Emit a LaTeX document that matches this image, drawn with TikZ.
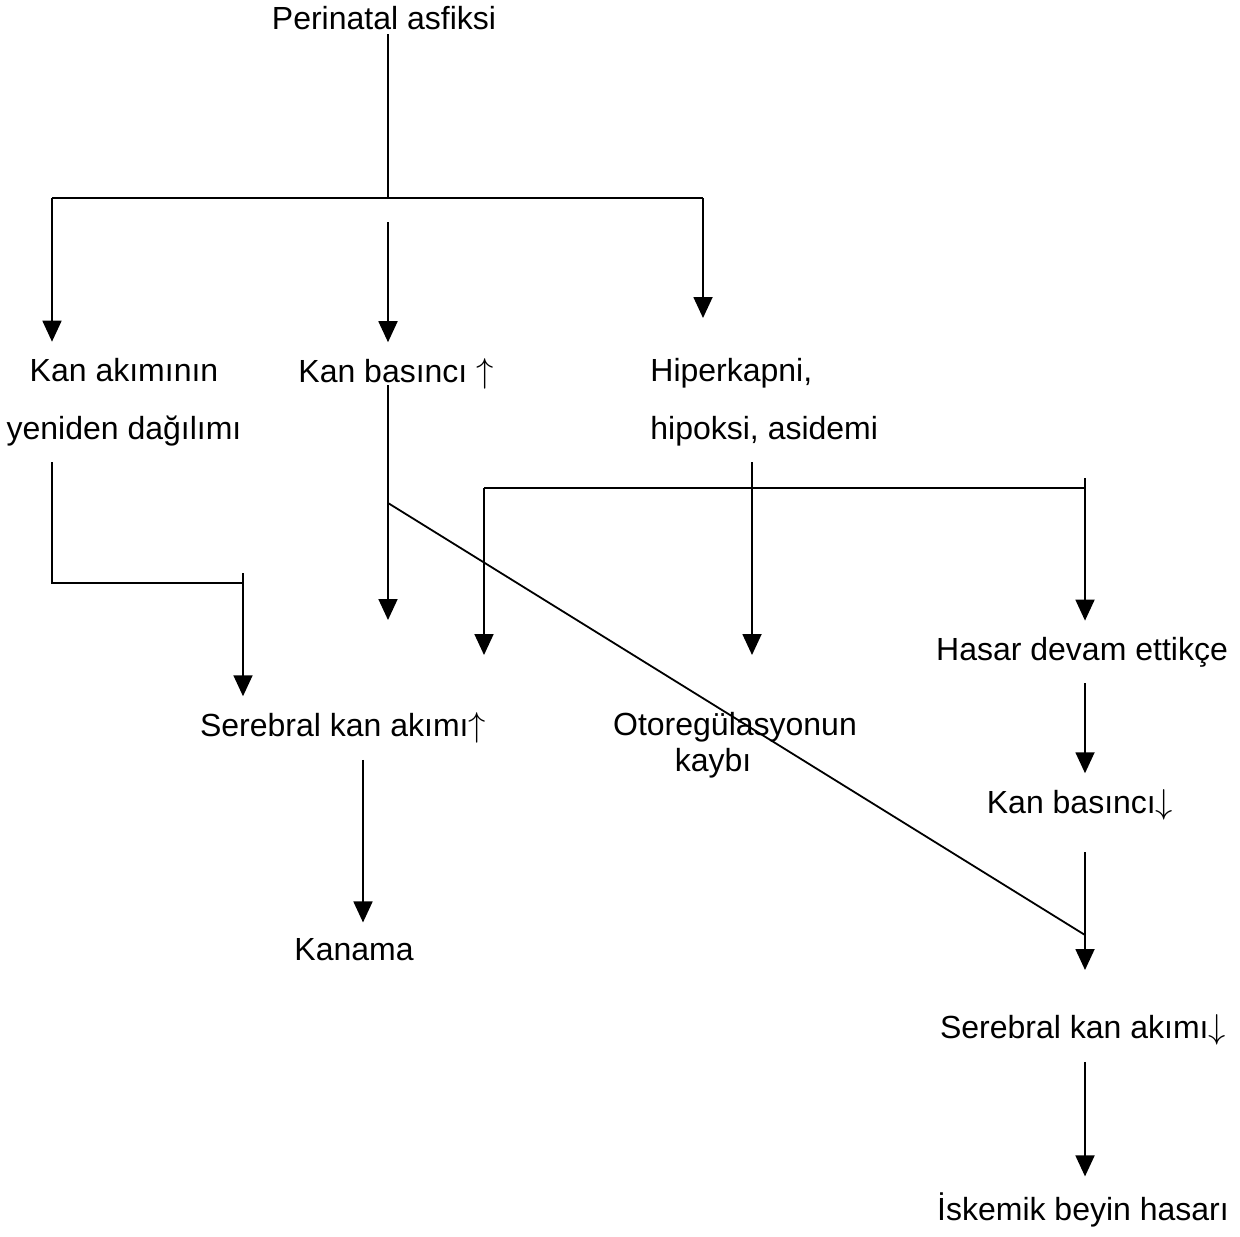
\documentclass[tikz,border=0pt]{standalone}
\usepackage{fontspec}
\setmainfont{Liberation Sans}
\usepackage{tikz}
\usetikzlibrary{arrows.meta}

\tikzset{
  lbl/.style={font=\fontsize{16}{19}\selectfont, inner sep=8pt},
  line/.style={line width=0.9pt},
  arr/.style={line, ->}
}

\begin{document}
\begin{tikzpicture}[x=0.5pt,y=-0.5pt,>={Triangle[length=10.5pt,width=9.5pt]}]
\useasboundingbox (0,0) rectangle (1240,1236);

% The texts
\node[lbl,inner sep=2pt] (pa) at (384,18) {Perinatal asfiksi};
\node[lbl,align=center] (kad) at (124,402) {Kan akımının\\[10pt]yeniden dağılımı};
\node[lbl] (kb) at (396,374) {Kan basıncı $\uparrow$};
\node[lbl,align=left,anchor=west] (hip) at (634,402) {Hiperkapni,\\[10pt]hipoksi, asidemi};
\node[lbl] (ser) at (343,728) {Serebral kan akımı$\uparrow$};
\node[lbl] (oto) at (735,727) {Otoregülasyonun};
\node[lbl] (kaybi) at (713,763) {kaybı};
\node[lbl] (has) at (1082,652) {Hasar devam ettikçe};
\node[lbl] (kan) at (354,950) {Kanama};
\node[lbl] (kbd) at (1080,805) {Kan basıncı$\downarrow$};
\node[lbl] (sed) at (1083,1030) {Serebral kan akımı$\downarrow$};
\node[lbl] (isk) at (1083,1210) {İskemik beyin hasarı};

% The branch points
\coordinate (br) at (388,198);
\coordinate (bl) at (52,198);
\coordinate (brr) at (703,198);
\coordinate (bm) at (388,222);
\coordinate (hipt) at (703,318);
\coordinate (kl) at (52,583);
\coordinate (ks) at (243,573);
\coordinate (kbo) at (388,385);
\coordinate (kbt) at (388,620);
\coordinate (dg) at (388,503);
\coordinate (dge) at (1085,935);
\coordinate (ho) at (752,462);
\coordinate (ot1) at (752,655);
\coordinate (hl) at (484,488);
\coordinate (hr) at (1085,488);
\coordinate (hrt) at (1085,478);
\coordinate (ot2) at (484,655);
\coordinate (sk) at (363,0);
\coordinate (rc) at (1085,0);
\coordinate (k1) at (1085,852);
\coordinate (k2) at (1085,970);

% Perinatal asfiksi
\draw[line] (pa.south -| br) -- (br);
\draw[line] (bl) -- (brr);
\draw[arr] (bl) -- (kad.north -| bl);
\draw[arr] (bm) -- (kb.north -| bm);
\draw[arr] (brr) -- (hipt);

% Second row
\draw[line] (kad.south -| bl) -- (kl) -- (kl -| ks);
\draw[arr] (ks) -- (ser.north -| ks);
\draw[arr] (kbo) -- (kbt);
\draw[line] (dg) -- (dge);
\draw[arr] (ho) -- (ot1);
\draw[line] (hl) -- (hr);
\draw[arr] (hl) -- (ot2);
\draw[arr] (hrt) -- (has.north -| rc);

% Lower part
\draw[arr] (ser.south -| sk) -- (kan.north -| sk);
\draw[arr] (has.south -| rc) -- (kbd.north -| rc);
\draw[arr] (k1) -- (k2);
\draw[arr] (sed.south -| rc) -- (isk.north -| rc);
\end{tikzpicture}
\end{document}
